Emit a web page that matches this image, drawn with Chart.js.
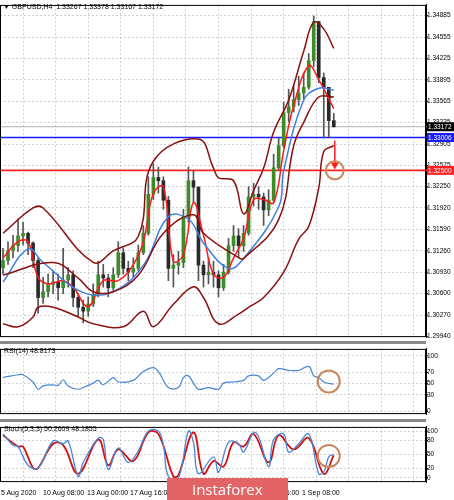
<!DOCTYPE html>
<html><head><meta charset="utf-8">
<script src="https://cdn.jsdelivr.net/npm/chart.js@4.4.1/dist/chart.umd.min.js"></script>
<style>
body{margin:0;background:#fff;width:454px;height:500px;overflow:hidden;position:relative;font-family:"Liberation Sans",Arial,sans-serif}
.c{position:absolute;left:0;width:454px}
.t{position:absolute;font-size:7px;color:#000;white-space:nowrap}
.sep{position:absolute;left:0;width:426px;height:3px;background:#888}
#wm{position:absolute;left:167px;top:478px;width:121px;height:22px;background:#e36464;color:#fff;font-size:15px;text-align:center;line-height:22px;font-family:"Open Sans",sans-serif}
</style></head><body>
<div class="c" style="top:0;height:342px"><canvas id="m"></canvas></div>
<div class="sep" style="top:341px"></div>
<div class="c" style="top:344px;height:75px"><canvas id="r"></canvas></div>
<div class="sep" style="top:419px"></div>
<div class="c" style="top:422px;height:65px"><canvas id="s"></canvas></div>
<div class="t" style="left:3px;top:3px">▼ GBPUSD,H4&nbsp; 1.33267 1.33378 1.33167 1.33172</div>
<div class="t" style="left:4px;top:347px">RSI(14) 48.8173</div>
<div class="t" style="left:4px;top:425px">Stoch(5,3,3) 50.2609 48.1855</div>
<div class="t" style="left:1px;top:489px">5 Aug 2020</div>
<div class="t" style="left:43px;top:489px">10 Aug 08:00</div>
<div class="t" style="left:87px;top:489px">13 Aug 00:00</div>
<div class="t" style="left:130px;top:489px">17 Aug 16:00</div>
<div class="t" style="left:174px;top:489px">20 Aug 08:00</div>
<div class="t" style="left:217px;top:489px">25 Aug 00:00</div>
<div class="t" style="left:258px;top:489px">27 Aug 16:00</div>
<div class="t" style="left:301px;top:489px;background:#fff;padding-left:1px">1 Sep 08:00</div>
<div id="wm">instaforex</div>
<script>
const closes=[1.3111,1.3126,1.3134,1.3149,1.3153,1.3138,1.3111,1.3054,1.3063,1.3074,1.3078,1.3069,1.3081,1.3089,1.3054,1.3039,1.3033,1.3044,1.3059,1.3089,1.3084,1.3069,1.3089,1.3123,1.3099,1.3093,1.3099,1.3123,1.3153,1.3213,1.3239,1.3234,1.3204,1.3099,1.3104,1.3108,1.3179,1.3234,1.3224,1.3104,1.3089,1.3093,1.3089,1.3069,1.3093,1.3134,1.3149,1.3134,1.3153,1.3209,1.3213,1.3209,1.3189,1.3204,1.3254,1.3288,1.3339,1.3348,1.3359,1.3369,1.3378,1.3419,1.3479,1.3393,1.3378,1.33267,1.33172];
const highs=[1.3130,1.3140,1.3150,1.3175,1.3170,1.3155,1.3140,1.3115,1.3085,1.3090,1.3095,1.3090,1.3130,1.3100,1.3095,1.3060,1.3050,1.3055,1.3075,1.3110,1.3105,1.3090,1.3100,1.3140,1.3130,1.3110,1.3115,1.3135,1.3165,1.3240,1.3260,1.3255,1.3240,1.3210,1.3120,1.3125,1.3190,1.3255,1.3250,1.3225,1.3110,1.3115,1.3110,1.3095,1.3105,1.3145,1.3165,1.3160,1.3165,1.3225,1.3230,1.3225,1.3215,1.3220,1.3275,1.3300,1.3355,1.3375,1.3380,1.3395,1.3400,1.3430,1.3488,1.3480,1.3400,1.3360,1.33378];
const lows=[1.3090,1.3105,1.3115,1.3125,1.3135,1.3120,1.3100,1.3030,1.3045,1.3055,1.3060,1.3050,1.3060,1.3070,1.3040,1.3025,1.3015,1.3025,1.3040,1.3055,1.3070,1.3055,1.3065,1.3085,1.3090,1.3080,1.3085,1.3095,1.3120,1.3150,1.3205,1.3215,1.3190,1.3080,1.3070,1.3090,1.3100,1.3170,1.3200,1.3080,1.3070,1.3075,1.3070,1.3055,1.3065,1.3090,1.3125,1.3115,1.3125,1.3150,1.3195,1.3190,1.3165,1.3180,1.3200,1.3250,1.3285,1.3325,1.3340,1.3350,1.3360,1.3375,1.3410,1.3385,1.3300,1.3300,1.33167];
const firstOpen=1.3100;
const upIdx=[0,6,8,18,22,27,30,39,42,43,46,48,50,52,54,57,60,62,64,66];
const upVal=[1.3153,1.3192,1.3192,1.3108,1.3126,1.31485,1.3264,1.32985,1.32535,1.32385,1.3234,1.3183,1.3219,1.32535,1.3309,1.33585,1.34335,1.34785,1.3468,1.3438];
const loIdx=[0,3,6,7,10,15,18,24,28,30,34,38,40,43,47,49,52,56,59,61,63,64,66];
const loVal=[1.30135,1.3009,1.3024,1.3039,1.3039,1.3024,1.30135,1.3009,1.3033,1.3009,1.30435,1.30705,1.3054,1.30135,1.30285,1.3039,1.3054,1.3093,1.3144,1.31635,1.3223,1.3279,1.3288];
const midIdx=[0,10,15,18,22,27,32,38,40,47,48,55,58,60,63,66];
const midVal=[1.30885,1.3108,1.3084,1.3063,1.3063,1.30885,1.3153,1.31815,1.3153,1.31155,1.3114,1.3174,1.3288,1.3324,1.3363,1.3363];
const blueIdx=[0,5,8,16,22,28,33,37,40,45,48,55,56,60,63,66];
const blueVal=[1.3078,1.3129,1.3108,1.30615,1.3063,1.31035,1.31785,1.3175,1.3138,1.3099,1.3114,1.31935,1.3249,1.33585,1.33765,1.33735];
const redIdx=[0,3,5,7,9,12,14,17,20,23,26,28,30,32,34,36,38,40,42,44,46,48,50,52,54,56,58,61,63,66];
const redVal=[1.3115,1.3140,1.3140,1.3085,1.3075,1.3080,1.3070,1.3040,1.3080,1.3080,1.3105,1.3140,1.3215,1.3225,1.3110,1.3120,1.3200,1.3150,1.3090,1.3085,1.3115,1.3145,1.3205,1.3205,1.3200,1.3280,1.3350,1.3411,1.3390,1.3345];
const priceTicks=[1.34885,1.34555,1.34225,1.33895,1.33565,1.33235,1.32905,1.32575,1.32250,1.31920,1.31590,1.31260,1.30930,1.30600,1.30270,1.29940];
const rsiIdx=[0,3,4,6,7,8,10,11,12,13,15,16,18,19,20,22,23,26,28,30,31,33,35,36,37,38,39,41,43,44,46,48,49,51,52,54,55,57,59,61,62,63,64,66];
const rsiVal=[61,66,66,53,40,46,48,47,57,46,40,43,51,56,48,61,53,56,72,79,72,43,43,61,64,51,40,43,40,51,53,56,64,64,56,69,77,74,74,81,64,61,53,49];
const kIdx=[0,2,3,5,7,10,12,13,15,16,19,20,21,23,25,27,29,31,32,33,35,37,38,39,42,43,45,47,48,50,51,53,54,56,57,59,61,63,64,65,66];
const kVal=[94,70,67,27,21,79,73,79,3,33,85,82,18,64,33,58,100,100,70,3,0,100,76,9,45,12,76,73,55,97,88,24,82,94,55,73,94,9,12,45,50];
const dIdx=[0,3,4,6,7,10,12,15,19,21,23,26,29,31,34,35,38,40,42,44,46,48,50,53,55,58,61,64,66];
const dVal=[91,67,67,21,21,73,70,9,82,27,61,36,97,94,3,6,97,9,36,24,76,67,94,33,91,61,85,9,48];

const pts=(ix,v)=>ix.map((x,k)=>({x,y:v[k]}));
const gridTicks=[];for(let g=4;g<85;g+=6.5)gridTicks.push(g);
const grid={color:'#c4c4c4',lineWidth:0.8};
function xScale(){return{type:'linear',offset:false,min:-0.6,max:84.4,ticks:{display:false},border:{display:false,dash:[2,2]},
 grid:{...grid,drawTicks:false,offset:false},afterBuildTicks:s=>{s.ticks=gridTicks.map(v=>({value:v}))}};}
function yScale(min,max,tv,fmt,col){return{position:'right',min,max,
 afterBuildTicks:s=>{s.ticks=tv.map(v=>({value:v}))},afterFit:s=>{s.width=28},
 ticks:{callback:fmt,font:{size:6.5,family:'Liberation Sans'},color:col||'#000',padding:1},
 border:{display:true,color:'#000',dash:[2,2]},grid:{...grid,drawTicks:false}};}
const frame={id:'frame',afterDraw(c){const a=c.chartArea,x=c.ctx;x.save();x.strokeStyle='#000';x.lineWidth=1;
 x.strokeRect(a.left+0.5,a.top+0.5,a.width-1,a.height-1);
 c.scales.y.ticks.forEach(t=>{const y=c.scales.y.getPixelForValue(t.value);x.beginPath();x.moveTo(a.right,y);x.lineTo(a.right+2,y);x.stroke();});x.restore();}};
function ring(c,ix,val,r){const x=c.scales.x.getPixelForValue(ix),y=c.scales.y.getPixelForValue(val),ctx=c.ctx;
 ctx.save();ctx.strokeStyle='#c8885c';ctx.lineWidth=2;ctx.beginPath();ctx.arc(x,y,r,0,7);ctx.stroke();ctx.restore();}
function line(ds,col,w){return{type:'line',data:ds,borderColor:col,borderWidth:w,pointRadius:0,tension:0.4,spanGaps:true,order:1};}
Chart.defaults.animation=false;Chart.defaults.responsive=true;Chart.defaults.maintainAspectRatio=false;
Chart.defaults.plugins.legend.display=false;Chart.defaults.plugins.tooltip.enabled=false;
Chart.defaults.layout.padding=0;

const opens=closes.map((c,i)=>i?closes[i-1]:firstOpen);
const wick=closes.map((c,i)=>({x:i,y:[lows[i],highs[i]]}));
const body=closes.map((c,i)=>({x:i,y:[opens[i],c]}));
const bodyCol=closes.map((c,i)=>c>=opens[i]?'#3c8c28':'#2a2a2a');
const mainPlug={id:'mp',beforeDatasetsDraw(c){const ctx=c.ctx,a=c.chartArea,Y=c.scales.y;
  [[1.33172,'#b0b0b0',1],[1.33006,'#1a1aff',1.6],[1.32500,'#ff2020',1.6]].forEach(([v,col,w])=>{const y=Y.getPixelForValue(v);
   ctx.save();ctx.strokeStyle=col;ctx.lineWidth=w;ctx.beginPath();ctx.moveTo(a.left,y);ctx.lineTo(a.right+28,y);ctx.stroke();ctx.restore();});},
 afterDraw(c){const ctx=c.ctx,a=c.chartArea,Y=c.scales.y,X=c.scales.x;
  [[1.33172,'#000'],[1.33006,'#1a1aff'],[1.32500,'#ff2020']].forEach(([v,col])=>{const y=Y.getPixelForValue(v);
   ctx.save();ctx.fillStyle=col;ctx.fillRect(a.right+1,y-4.5,27,9);ctx.fillStyle='#fff';ctx.font='6.5px Liberation Sans';ctx.textBaseline='middle';ctx.fillText(v.toFixed(5),a.right+2,y+0.5);ctx.restore();});
  const ax=X.getPixelForValue(66.2),y1=Y.getPixelForValue(1.3296),y2=Y.getPixelForValue(1.3253);
  ctx.save();ctx.strokeStyle='#ff2020';ctx.fillStyle='#ff2020';ctx.lineWidth=1.5;ctx.beginPath();ctx.moveTo(ax,y1);ctx.lineTo(ax,y2-4);ctx.stroke();
  ctx.beginPath();ctx.moveTo(ax-4,y2-6);ctx.lineTo(ax+4,y2-6);ctx.lineTo(ax,y2+1);ctx.closePath();ctx.fill();ctx.restore();
  ring(c,66.2,1.3250,9);}};
new Chart(document.getElementById('m'),{type:'bar',data:{datasets:[
 line(pts(upIdx,upVal),'#8b1010',1.5),line(pts(loIdx,loVal),'#8b1010',1.5),line(pts(midIdx,midVal),'#8b1010',1.5),
 line(pts(blueIdx,blueVal),'#3f7fe0',1.5),line(pts(redIdx,redVal),'#ff1a1a',1.5),
 {data:wick,backgroundColor:'#555',barThickness:1,grouped:false,order:10},
 {data:body,backgroundColor:bodyCol,barThickness:3,minBarLength:1,grouped:false,order:9}]},
 options:{scales:{x:xScale(),y:yScale(1.2993,1.3505,priceTicks,v=>v.toFixed(5))}},plugins:[mainPlug,frame]});

new Chart(document.getElementById('r'),{type:'line',data:{datasets:[line(pts(rsiIdx,rsiVal),'#4a86d8',1.2)]},
 options:{scales:{x:xScale(),y:yScale(-4.7,112.5,[100,70,50,30,0],v=>v,'#000')}},
 plugins:[frame,{id:'rr',afterDraw(c){ring(c,65,54,11)}}]});

new Chart(document.getElementById('s'),{type:'line',data:{datasets:[line(pts(kIdx,kVal),'#4a86d8',1.3),line(pts(dIdx,dVal),'#d01010',1.8)]},
 options:{scales:{x:xScale(),y:yScale(-9,109,[100,80,50,20,0],v=>v,'#000')}},
 plugins:[frame,{id:'sr',afterDraw(c){ring(c,65,47,11)}}]});
</script></body></html>
